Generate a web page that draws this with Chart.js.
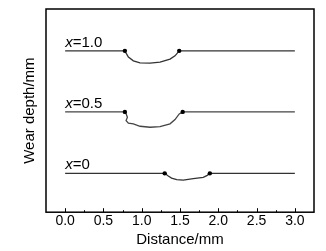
<!DOCTYPE html>
<html>
<head>
<meta charset="utf-8">
<script src="https://cdn.jsdelivr.net/npm/chart.js@4/dist/chart.umd.min.js"></script>
<style>
    html, body { margin: 0; padding: 0; background: #fff; }
    #wrap { width: 326px; height: 251px; }
</style>
</head>
<body>
<div id="wrap"><canvas id="chartWear" width="326" height="251"></canvas></div>
<script>
// Profile data (depth in arbitrary offset units)
const seriesNames = ['1.0', '0.5', '0'];

const dist10 = [0, 0.78, 0.796, 0.826, 0.891, 0.978, 1.109, 1.239, 1.37, 1.435, 1.49, 3.0];
const depth10 = [162, 162, 159.7, 155.7, 152, 150, 149.7, 150.7, 153.7, 157, 162, 162];

const dist05 = [0, 0.78, 0.796, 0.813, 0.796, 0.826, 0.891, 0.978, 1.109, 1.239, 1.37, 1.435, 1.49, 1.535, 3.0];
const depth05 = [100.7, 100.7, 98.7, 95.3, 92, 89.3, 88.7, 86.3, 85.3, 86, 88.7, 93, 98.7, 100.7, 100.7];

const dist00 = [0, 1.30, 1.347, 1.39, 1.457, 1.543, 1.673, 1.804, 1.856, 1.89, 3.0];
const depth00 = [39, 39, 36.3, 34.3, 32.7, 32.3, 33.7, 35, 37, 39, 39];

const baselines = [162, 100.7, 39];

const FONT = "'Liberation Sans', Arial, sans-serif";

function toPoints(xs, ys) {
    return xs.map((x, i) => ({ x: x, y: ys[i] }));
}

function makeSet(xs, ys, color) {
    const last = xs.length - 2;
    return {
        data: toPoints(xs, ys),
        borderColor: color,
        backgroundColor: '#000',
        borderWidth: 1.3,
        tension: 0,
        pointRadius: ctx => (ctx.dataIndex === 1 || ctx.dataIndex === last) ? 2.2 : 0,
        pointBorderWidth: 0,
        pointHoverRadius: 0
    };
}

// frame, inward ticks and series labels
const decorPlugin = {
    id: 'decor',
    afterDraw(chart) {
        const { ctx, chartArea: a, scales } = chart;
        const xs = scales.x, ys = scales.y;
        ctx.save();
        ctx.strokeStyle = '#000';
        ctx.lineWidth = 1.5;
        ctx.strokeRect(a.left, a.top, a.right - a.left, a.bottom - a.top);

        ctx.lineWidth = 1;
        xs.ticks.forEach(t => {
            if (t.value < 0 || t.value > 3) return;
            const px = Math.round(xs.getPixelForValue(t.value)) + 0.5;
            const len = (Math.abs(t.value * 2 - Math.round(t.value * 2)) < 1e-6) ? 4 : 2;
            ctx.beginPath();
            ctx.moveTo(px, a.bottom);
            ctx.lineTo(px, a.bottom - len);
            ctx.stroke();
        });

        ctx.fillStyle = '#000';
        ctx.textBaseline = 'alphabetic';
        seriesNames.forEach((name, i) => {
            const px = xs.getPixelForValue(0);
            const py = ys.getPixelForValue(baselines[i]) - 4;
            ctx.font = 'italic 15px ' + FONT;
            ctx.fillText('x', px, py);
            const w = ctx.measureText('x').width;
            ctx.font = '15px ' + FONT;
            ctx.fillText('=' + name, px + w, py);
        });
        ctx.restore();
    }
};

const ctx = document.getElementById('chartWear').getContext('2d');
new Chart(ctx, {
    type: 'line',
    data: {
        datasets: [
            makeSet(dist10, depth10, '#333'),
            makeSet(dist05, depth05, '#444'),
            makeSet(dist00, depth00, '#333')
        ]
    },
    options: {
        responsive: false,
        animation: false,
        layout: { padding: { left: 21, right: 12, top: 9, bottom: 0 } },
        plugins: {
            legend: { display: false },
            tooltip: { enabled: false }
        },
        scales: {
            x: {
                type: 'linear',
                min: -0.25,
                max: 3.25,
                grid: { display: false, drawTicks: false },
                border: { display: false },
                ticks: {
                    stepSize: 0.25,
                    padding: 1,
                    autoSkip: false,
                    maxRotation: 0,
                    color: '#000',
                    font: { family: FONT, size: 14 },
                    callback: v => (v >= 0 && v <= 3 && Math.abs(v * 2 - Math.round(v * 2)) < 1e-6) ? v.toFixed(1) : ''
                },
                title: {
                    display: true,
                    text: 'Distance/mm',
                    color: '#000',
                    font: { family: FONT, size: 15 },
                    padding: { top: 0, bottom: 2 }
                }
            },
            y: {
                min: 0,
                max: 204,
                grid: { display: false, drawTicks: false },
                border: { display: false },
                ticks: { display: false },
                title: {
                    display: true,
                    text: 'Wear depth/mm',
                    color: '#000',
                    font: { family: FONT, size: 15 },
                    padding: { top: 0, bottom: 7 }
                }
            }
        }
    },
    plugins: [decorPlugin]
});
</script>
</body>
</html>
